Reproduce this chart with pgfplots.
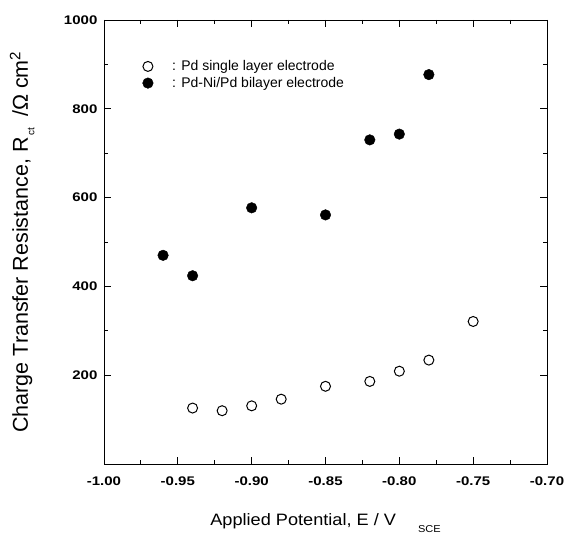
\documentclass[border=0pt]{standalone}
\usepackage{pgfplots}
\pgfplotsset{compat=1.18}
\usepackage{fontspec}
\setmainfont{Liberation Sans}

\begin{document}
\begin{tikzpicture}
  \begin{axis}[
    scale only axis,
    width=443pt, height=444pt,
    xmin=-1.0, xmax=-0.7,
    ymin=0, ymax=1000,
    xtick={-1.00,-0.95,...,-0.70},
    ytick={200,400,...,1000},
    minor x tick num=1,
    minor y tick num=1,
    tick align=inside,
    major tick length=7pt,
    minor tick length=4pt,
    axis line style={line width=0.9pt},
    every tick/.style={black, line width=0.9pt},
    /pgf/number format/assume math mode=true,
    xticklabel style={font=\fontsize{12.5}{14}\selectfont\bfseries, xscale=1.2, yshift=-9pt,
      /pgf/number format/.cd, fixed, fixed zerofill, precision=2},
    yticklabel style={font=\fontsize{12.5}{14}\selectfont\bfseries, xscale=1.2, xshift=-2pt,
      /pgf/number format/.cd, fixed, precision=0, 1000 sep={}},
    xlabel={Applied Potential, E / V\hspace{20pt}\raisebox{-0.42em}{\fontsize{10}{12}\selectfont SCE}},
    ylabel={Charge Transfer Resistance, R\raisebox{-0.3em}{\fontsize{10}{12}\selectfont\,ct}\hspace{11pt}/Ω cm\textsuperscript{2}},
    xlabel style={font=\fontsize{16.5}{20}\selectfont, xscale=1.1, yshift=-21pt},
    ylabel style={font=\fontsize{21.5}{24}\selectfont, yshift=22pt},
    legend style={at={(0.08,0.918)}, anchor=north west, draw=none, fill=none,
      font=\fontsize{14}{16}\selectfont, row sep=1pt},
    legend cell align=left,
  ]
    \addplot[only marks, mark=o, mark size=5pt, mark options={line width=1pt}, black]
      coordinates {(-0.94,126) (-0.92,120) (-0.90,131) (-0.88,146) (-0.85,175)
                   (-0.82,186) (-0.80,209) (-0.78,234) (-0.75,321)};
    \addlegendentry{\hspace{17pt}: Pd single layer electrode}
    \addplot[only marks, mark=*, mark size=5.3pt, black]
      coordinates {(-0.96,470) (-0.94,424) (-0.90,577) (-0.85,561)
                   (-0.82,730) (-0.80,743) (-0.78,877)};
    \addlegendentry{\hspace{17pt}: Pd-Ni/Pd bilayer electrode}
  \end{axis}
  \pgfresetboundingbox
  \path (current axis.south west) ++(-104pt,-71pt);
  \path (current axis.north east) ++(18pt,20pt);
\end{tikzpicture}
\end{document}
